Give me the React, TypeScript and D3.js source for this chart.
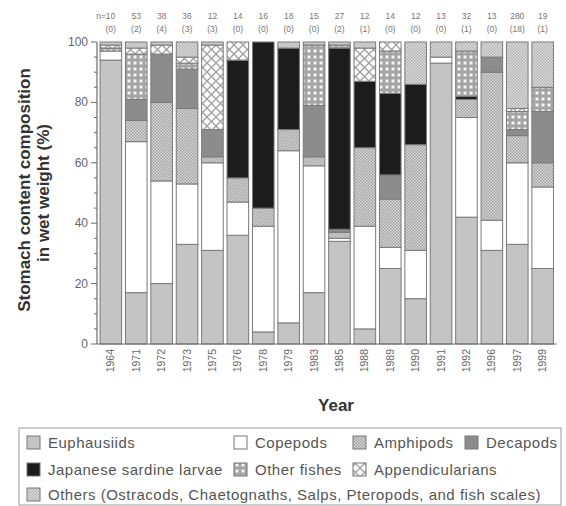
import * as d3 from 'd3';

const years = ['1964', '1971', '1972', '1973', '1975', '1976', '1978', '1979', '1983', '1985', '1988', '1989', '1990', '1991', '1992', '1996', '1997', '1999'];
const nFish = ['n=10', '53', '38', '36', '12', '14', '16', '18', '15', '27', '12', '14', '12', '13', '32', '13', '280', '19'];
const nEmpty = ['(0)', '(2)', '(4)', '(3)', '(3)', '(0)', '(0)', '(0)', '(0)', '(2)', '(1)', '(0)', '(0)', '(0)', '(1)', '(0)', '(18)', '(1)'];

// % wet weight
const euphausiids = [94, 17, 20, 33, 31, 36, 4, 7, 17, 34, 5, 25, 15, 93, 42, 31, 33, 25];
const copepods = [3, 50, 34, 20, 29, 11, 35, 57, 42, 1, 34, 7, 16, 2, 33, 10, 27, 27];
const amphipods = [0, 7, 26, 25, 2, 8, 6, 7, 3, 2, 26, 16, 35, 0, 6, 49, 9, 8];
const decapods = [0, 7, 16, 13, 9, 0, 0, 0, 17, 1, 0, 8, 0, 0, 0, 5, 2, 17];
const sardineLarvae = [0, 0, 0, 0, 0, 39, 55, 27, 0, 60, 22, 27, 20, 0, 1, 0, 0, 0];
const otherFishes = [1, 15, 0, 2, 0, 0, 0, 0, 20, 1, 0, 14, 0, 0, 15, 0, 6, 8];
const appendicularians = [1, 2, 3, 2, 28, 6, 0, 0, 0, 0, 11, 3, 0, 0, 0, 0, 1, 0];
const others = [1, 2, 1, 5, 1, 0, 0, 2, 1, 1, 2, 0, 14, 5, 3, 5, 22, 15];

const keys = ['euph', 'cope', 'amph', 'dec', 'sard', 'ofish', 'app', 'oth'];
const labels = ['Euphausiids', 'Copepods', 'Amphipods', 'Decapods', 'Japanese sardine larvae', 'Other fishes', 'Appendicularians', 'Others (Ostracods, Chaetognaths, Salps, Pteropods, and fish scales)'];
const fills = ['#c4c4c4', '#ffffff', 'url(#p-amph)', '#8c8c8c', '#1c1c1c', 'url(#p-ofish)', 'url(#p-app)', 'url(#p-oth)'];

const rows = years.map((yr, i) => ({
  year: yr,
  euph: euphausiids[i],
  cope: copepods[i],
  amph: amphipods[i],
  dec: decapods[i],
  sard: sardineLarvae[i],
  ofish: otherFishes[i],
  app: appendicularians[i],
  oth: others[i],
}));

// legend slots: [row, x of icon]
const legendPos = [[0, 27], [0, 234], [0, 353], [0, 465], [1, 27], [1, 234], [1, 353], [2, 27]];
const legendRowY = [443, 470, 495];

export default function App() {
  const width = 566;
  const height = 506;
  const left = 97;
  const right = 556.5;
  const top = 42;
  const bottom = 344;

  const x = d3.scaleBand().domain(years).range([left, right]).paddingInner(0.15).paddingOuter(0.12);
  const y = d3.scaleLinear().domain([0, 100]).range([bottom, top]);
  const stacked = d3.stack<any>().keys(keys)(rows);
  const minor = d3.range(0, 101, 5);
  const major = d3.range(0, 101, 20);
  const font = 'Liberation Sans, Arial, sans-serif';

  return (
    <svg width={width} height={height} style={{ position: 'absolute', left: 0, top: 0, background: '#fff' }} fontFamily={font}>
      <defs>
        <pattern id="p-amph" width="3" height="3" patternUnits="userSpaceOnUse">
          <rect width="3" height="3" fill="#d8d8d8" />
          <rect width="1.5" height="1.5" fill="#a2a2a2" />
          <rect x="1.5" y="1.5" width="1.5" height="1.5" fill="#a2a2a2" />
        </pattern>
        <pattern id="p-oth" width="3" height="3" patternUnits="userSpaceOnUse">
          <rect width="3" height="3" fill="#e0e0e0" />
          <rect width="1.5" height="1.5" fill="#b0b0b0" />
          <rect x="1.5" y="1.5" width="1.5" height="1.5" fill="#b0b0b0" />
        </pattern>
        <pattern id="p-ofish" width="6" height="6" patternUnits="userSpaceOnUse">
          <rect width="6" height="6" fill="#a4a4a4" />
          <rect x="1.5" y="1.5" width="3" height="3" fill="#f4f4f4" />
        </pattern>
        <pattern id="p-app" width="9" height="9" patternUnits="userSpaceOnUse">
          <rect width="9" height="9" fill="#fff" />
          <path d="M0,0L9,9M9,0L0,9" stroke="#a0a0a0" strokeWidth="1.3" />
        </pattern>
      </defs>

      {/* bars */}
      {stacked.map((s, k) => (
        <g key={s.key}>
          {s.map((d, i) =>
            d[1] - d[0] > 0 ? (
              <rect
                key={i}
                x={x(years[i])}
                y={y(d[1])}
                width={x.bandwidth()}
                height={y(d[0]) - y(d[1])}
                fill={fills[k]}
                stroke="#7a7a7a"
                strokeWidth={1}
              />
            ) : null
          )}
        </g>
      ))}

      {/* y axis */}
      <line x1={left} x2={left} y1={top} y2={bottom} stroke="#6a6a6a" strokeWidth={1.2} />
      {minor.map((v) => (
        <line key={v} x1={left - (v % 20 === 0 ? 6 : 3)} x2={left} y1={y(v)} y2={y(v)} stroke="#6a6a6a" strokeWidth={1} />
      ))}
      {major.map((v) => (
        <text key={v} x={left - 9} y={y(v) + 4} textAnchor="end" fontSize={12} fill="#666">
          {v}
        </text>
      ))}

      {/* x axis */}
      <line x1={left} x2={right} y1={bottom} y2={bottom} stroke="#6a6a6a" strokeWidth={1.2} />
      {years.map((yr) => {
        const cx = (x(yr) as number) + x.bandwidth() / 2;
        return (
          <text key={yr} transform={`translate(${cx + 3.5},${bottom + 5}) rotate(-90)`} textAnchor="end" fontSize={10.5} fill="#666">
            {yr}
          </text>
        );
      })}

      {/* sample sizes */}
      {years.map((yr, i) => {
        const cx = (x(yr) as number) + x.bandwidth() / 2;
        return (
          <g key={yr} fontSize={8.5} fill="#777" textAnchor={i === 0 ? 'end' : 'middle'}>
            <text x={i === 0 ? cx + 4.5 : cx} y={18.5}>{nFish[i]}</text>
            <text x={i === 0 ? cx + 5 : cx} y={31.5}>{nEmpty[i]}</text>
          </g>
        );
      })}

      {/* axis titles */}
      <g fontWeight="bold" fontSize={17} fill="#333" textAnchor="middle">
        <text transform={`translate(30,190) rotate(-90)`}>Stomach content composition</text>
        <text transform={`translate(49,193) rotate(-90)`}>in wet weight (%)</text>
        <text x={336} y={411}>Year</text>
      </g>

      {/* legend */}
      <rect x={19} y={428} width={542} height={77} fill="none" stroke="#aaa" strokeWidth={1.2} />
      {labels.map((lab, k) => {
        const [r, lx] = legendPos[k];
        const cy = legendRowY[r];
        return (
          <g key={lab}>
            <rect x={lx} y={cy - 7} width={13} height={13} fill={fills[k]} stroke="#777" strokeWidth={1} />
            <text x={lx + 21} y={cy + 5} fontSize={15} letterSpacing={0.5} fill="#555">
              {lab}
            </text>
          </g>
        );
      })}
    </svg>
  );
}
